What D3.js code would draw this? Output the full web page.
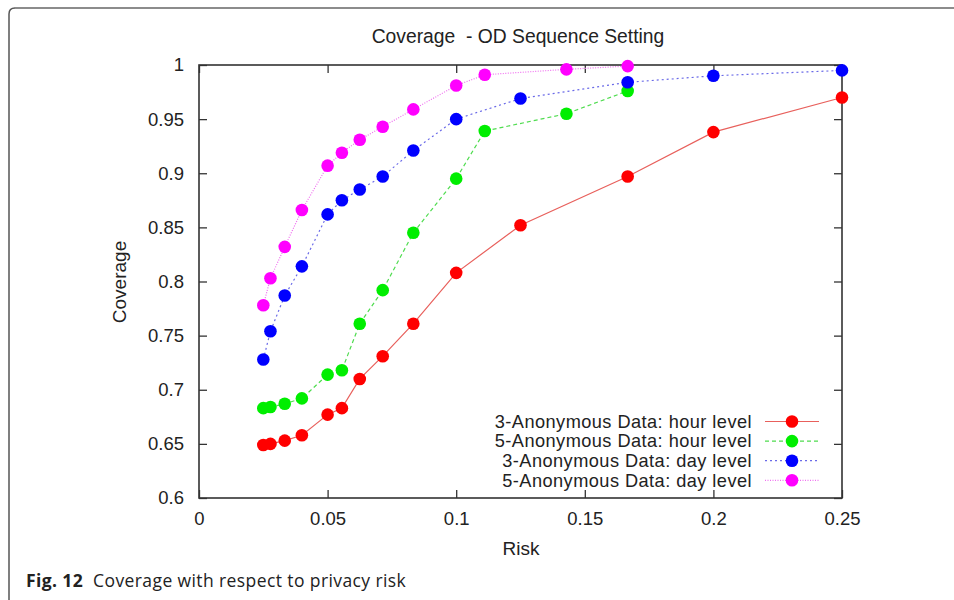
<!DOCTYPE html>
<html>
<head>
  <script src="https://cdn.jsdelivr.net/npm/d3@7"></script>
  <style>
    body { margin: 0; background: #fff; }
    svg text { font-family: "Liberation Sans", Arial, sans-serif; fill: #222; }
  </style>
</head>
<body>
  <div id="chart"></div>

  <script>
    // risk values (x) and coverage (y) for each series
    const redX = [1/40, 1/36, 1/30, 1/25, 1/20, 1/18, 1/16, 1/14, 1/12, 1/10, 1/8, 1/6, 1/5, 1/4];
    const redY = [0.649, 0.650, 0.653, 0.658, 0.677, 0.683, 0.710, 0.731, 0.761, 0.808, 0.852, 0.897, 0.938, 0.970];

    const greenX = [1/40, 1/36, 1/30, 1/25, 1/20, 1/18, 1/16, 1/14, 1/12, 1/10, 1/9, 1/7, 1/6];
    const greenY = [0.683, 0.684, 0.687, 0.692, 0.714, 0.718, 0.761, 0.792, 0.845, 0.895, 0.939, 0.955, 0.976];

    const blueX = [1/40, 1/36, 1/30, 1/25, 1/20, 1/18, 1/16, 1/14, 1/12, 1/10, 1/8, 1/6, 1/5, 1/4];
    const blueY = [0.728, 0.754, 0.787, 0.814, 0.862, 0.875, 0.885, 0.897, 0.921, 0.950, 0.969, 0.984, 0.990, 0.995];

    const magentaX = [1/40, 1/36, 1/30, 1/25, 1/20, 1/18, 1/16, 1/14, 1/12, 1/10, 1/9, 1/7, 1/6];
    const magentaY = [0.778, 0.803, 0.832, 0.866, 0.907, 0.919, 0.931, 0.943, 0.959, 0.981, 0.991, 0.996, 0.999];

    const seriesNames = [
      "3-Anonymous Data: hour level",
      "5-Anonymous Data: hour level",
      "3-Anonymous Data: day level",
      "5-Anonymous Data: day level"
    ];

    const xTicks = [0, 0.05, 0.1, 0.15, 0.2, 0.25];
    const yTicks = [0.6, 0.65, 0.7, 0.75, 0.8, 0.85, 0.9, 0.95, 1];

    const W = 954, H = 600;
    const PL = 199, PR = 842, PT = 65, PB = 498;

    const series = [
      { name: seriesNames[0], xs: redX, ys: redY, color: "#ff0000", line: "#e8605c", dash: null },
      { name: seriesNames[1], xs: greenX, ys: greenY, color: "#00ee00", line: "#4fdc4f", dash: "4,3" },
      { name: seriesNames[2], xs: blueX, ys: blueY, color: "#0000ff", line: "#6a6ae8", dash: "2,3" },
      { name: seriesNames[3], xs: magentaX, ys: magentaY, color: "#ff00ff", line: "#f070f0", dash: "1,1.5" }
    ];

    const svg = d3.select('#chart').append('svg')
      .attr('width', W)
      .attr('height', H);

    // outer figure frame: dark left edge, grey top edge, rounded corner
    svg.append('path')
      .attr('d', `M9,${H} L9,14 Q9,8 15,8`)
      .attr('fill', 'none')
      .attr('stroke', '#555')
      .attr('stroke-width', 1.5);
    svg.append('path')
      .attr('d', `M15,8 L${W},8`)
      .attr('fill', 'none')
      .attr('stroke', '#8c8c8c')
      .attr('stroke-width', 2);

    const x = d3.scaleLinear().domain([0, 0.25]).range([PL, PR]);
    const y = d3.scaleLinear().domain([0.6, 1]).range([PB, PT]);

    const tickLen = 8;
    const g = svg.append('g');

    // bottom/left axes with ticks inside
    const xAxis = g.append('g').attr('transform', `translate(0,${PB})`)
      .call(d3.axisBottom(x).tickValues(xTicks).tickSize(-tickLen).tickPadding(14).tickFormat(d3.format('')));
    const yAxis = g.append('g').attr('transform', `translate(${PL},0)`)
      .call(d3.axisLeft(y).tickValues(yTicks).tickSize(-tickLen).tickPadding(15).tickFormat(d3.format('')));
    // mirrored top and right ticks
    const xTop = g.append('g').attr('transform', `translate(0,${PT})`)
      .call(d3.axisTop(x).tickValues(xTicks).tickSize(-tickLen).tickFormat(''));
    const yRight = g.append('g').attr('transform', `translate(${PR},0)`)
      .call(d3.axisRight(y).tickValues(yTicks).tickSize(-tickLen).tickFormat(''));

    [xAxis, yAxis, xTop, yRight].forEach(a => {
      a.select('.domain').remove();
      a.selectAll('line').attr('stroke', '#333').attr('stroke-width', 1.3);
      a.selectAll('text').style('font-size', '18.5px').attr('fill', '#222');
    });

    g.append('rect')
      .attr('x', PL).attr('y', PT)
      .attr('width', PR - PL).attr('height', PB - PT)
      .attr('fill', 'none').attr('stroke', '#333').attr('stroke-width', 1.6);

    // lines and points
    const line = d3.line().x(d => x(d[0])).y(d => y(d[1]));
    series.forEach(s => {
      const pts = s.xs.map((v, i) => [v, s.ys[i]]);
      g.append('path')
        .attr('d', line(pts))
        .attr('fill', 'none')
        .attr('stroke', s.line)
        .attr('stroke-width', 1.2)
        .attr('stroke-dasharray', s.dash);
      g.selectAll(null).data(pts).enter().append('circle')
        .attr('cx', d => x(d[0]))
        .attr('cy', d => y(d[1]))
        .attr('r', 6.3)
        .attr('fill', s.color);
    });

    // legend
    const legend = g.append('g');
    series.forEach((s, i) => {
      const ly = 421.5 + i * 19.6;
      legend.append('text')
        .attr('x', 752).attr('y', ly)
        .attr('text-anchor', 'end')
        .attr('dy', '0.35em')
        .style('font-size', '18.2px')
        .style('letter-spacing', '0.45px')
        .text(s.name);
      legend.append('line')
        .attr('x1', 765).attr('x2', 819)
        .attr('y1', ly).attr('y2', ly)
        .attr('stroke', s.line).attr('stroke-width', 1.2)
        .attr('stroke-dasharray', s.dash);
      legend.append('circle')
        .attr('cx', 792).attr('cy', ly).attr('r', 6.3)
        .attr('fill', s.color);
    });

    // titles
    svg.append('text')
      .attr('x', 518).attr('y', 43)
      .attr('text-anchor', 'middle')
      .style('font-size', '19.3px')
      .style('white-space', 'pre')
      .text('Coverage  - OD Sequence Setting');

    svg.append('text')
      .attr('transform', 'translate(126,282) rotate(-90)')
      .attr('text-anchor', 'middle')
      .style('font-size', '19px')
      .text('Coverage');

    svg.append('text')
      .attr('x', 521).attr('y', 555)
      .attr('text-anchor', 'middle')
      .style('font-size', '19px')
      .text('Risk');

    // caption
    const cap = svg.append('text')
      .attr('x', 26).attr('y', 587)
      .style('font-family', '"Open Sans", "Noto Sans", sans-serif')
      .style('font-size', '17.5px')
      .style('letter-spacing', '0.4px')
      .style('white-space', 'pre');
    cap.append('tspan').style('font-weight', 'bold').text('Fig. 12');
    cap.append('tspan').text('  Coverage with respect to privacy risk');
  </script>
</body>
</html>
